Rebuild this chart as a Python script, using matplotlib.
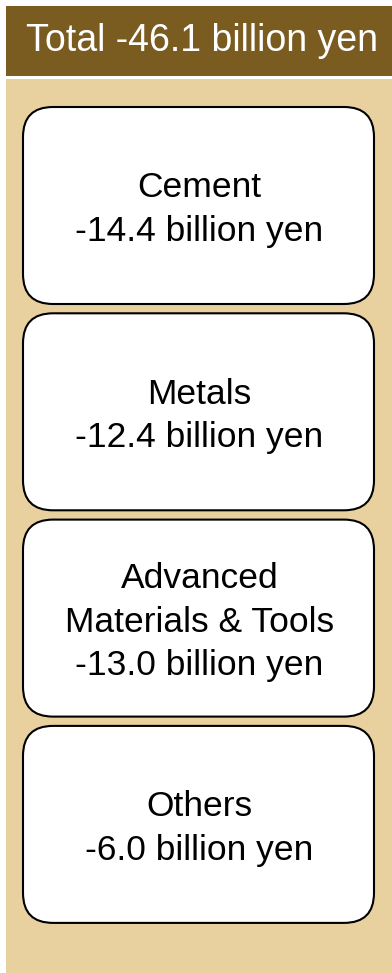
import matplotlib
matplotlib.use("Agg")
import matplotlib.pyplot as plt
from matplotlib.patches import FancyBboxPatch, Rectangle

# Data
total_value = -46.1
categories = ["Cement", "Metals", "Advanced\nMaterials & Tools", "Others"]
values = [-14.4, -12.4, -13.0, -6.0]
unit = "billion yen"

plt.rcParams['font.family'] = ['Liberation Sans', 'DejaVu Sans']

W, H = 392, 973
fig = plt.figure(figsize=(W / 100, H / 100), dpi=100)
ax = fig.add_axes([0, 0, 1, 1])
ax.set_xlim(0, W)
ax.set_ylim(H, 0)
ax.axis('off')

header_col = '#7b5c20'
tan_col = '#e8d19e'

# header band
ax.add_patch(Rectangle((6, 6), W - 6, 70, facecolor=header_col, edgecolor='none'))
ax.text((6 + W) / 2 + 3, 41, f"Total {total_value:.1f} {unit}", color='white',
        fontsize=27, ha='center', va='center')

# tan panel
ax.add_patch(Rectangle((6, 79), W - 6, H - 79, facecolor=tan_col, edgecolor='none'))

# boxes
box_left, box_right = 23, 374
box_top0, box_h, pitch = 107, 197, 206.3
for i, (cat, val) in enumerate(zip(categories, values)):
    top = box_top0 + i * pitch
    patch = FancyBboxPatch((box_left, top), box_right - box_left, box_h,
                           boxstyle="round,pad=0,rounding_size=30",
                           facecolor='white', edgecolor='black', linewidth=1.5)
    ax.add_patch(patch)
    ax.text((box_left + box_right) / 2 + 1, top + box_h / 2 + 4,
            f"{cat}\n{val:.1f} {unit}", fontsize=25.5, ha='center', va='center',
            color='black', linespacing=1.4)

fig.savefig("out.png", dpi=100)
